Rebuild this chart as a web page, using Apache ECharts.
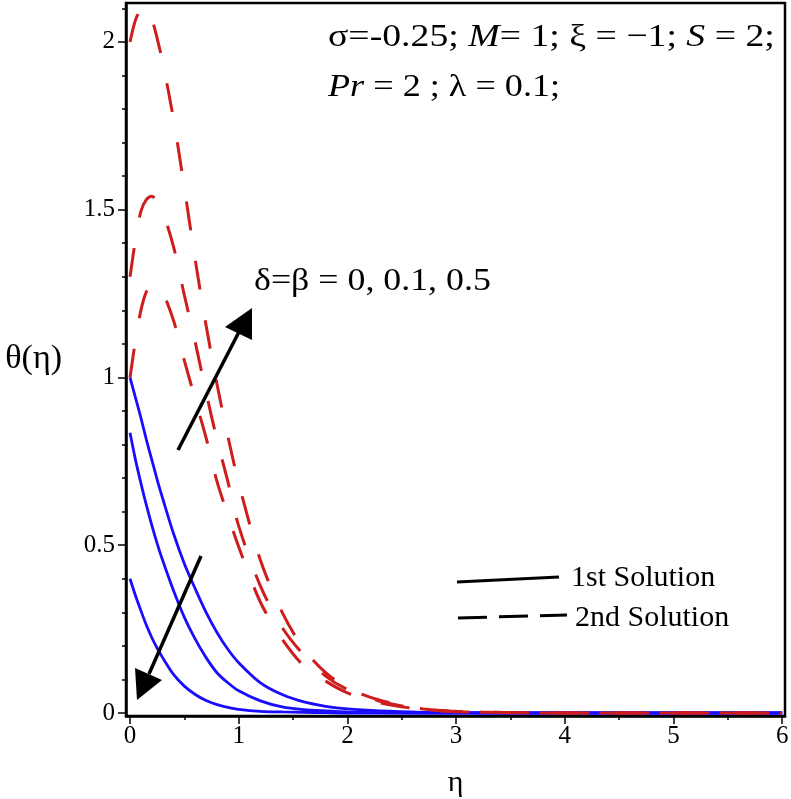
<!DOCTYPE html>
<html>
<head>
<meta charset="utf-8">
<script src="https://cdn.jsdelivr.net/npm/echarts@6/dist/echarts.min.js"></script>
<style>
  html, body { margin: 0; padding: 0; background: #fff; }
  #chart { width: 791px; height: 799px; }
</style>
</head>
<body>
<div id="chart"></div>
<script>
// eta grid shared by all curves
const eta = [0, 0.05, 0.1, 0.15, 0.2, 0.25, 0.3, 0.4, 0.5, 0.6, 0.7, 0.8, 0.9, 1.0,
             1.2, 1.4, 1.6, 1.8, 2.0, 2.3, 2.7, 3.0, 3.5, 4, 5, 6];

// 1st solution (solid blue), delta = beta = 0, 0.1, 0.5
const first0  = [1.0, 0.94, 0.88, 0.815, 0.755, 0.695, 0.64, 0.535, 0.445, 0.37, 0.30, 0.24, 0.19, 0.15,
                 0.09, 0.055, 0.033, 0.02, 0.012, 0.006, 0.002, 0.001, 0, 0, 0, 0];
const first01 = [0.835, 0.755, 0.685, 0.62, 0.56, 0.505, 0.455, 0.365, 0.285, 0.22, 0.165, 0.12, 0.09, 0.066,
                 0.036, 0.018, 0.01, 0.006, 0.003, 0.001, 0, 0, 0, 0, 0, 0];
const first05 = [0.40, 0.35, 0.305, 0.262, 0.225, 0.193, 0.165, 0.115, 0.08, 0.055, 0.037, 0.025, 0.017, 0.011,
                 0.005, 0.003, 0.002, 0.001, 0, 0, 0, 0, 0, 0, 0, 0];

// 2nd solution (dashed red)
const second05 = [2.0, 2.065, 2.097, 2.104, 2.07, 2.01, 1.94, 1.77, 1.565, 1.35, 1.155, 0.98, 0.825, 0.685,
                  0.455, 0.30, 0.19, 0.12, 0.075, 0.038, 0.012, 0.005, 0.001, 0, 0, 0];
const second01 = [1.3, 1.41, 1.495, 1.53, 1.54, 1.525, 1.495, 1.39, 1.245, 1.105, 0.955, 0.815, 0.69, 0.557,
                  0.378, 0.255, 0.172, 0.11, 0.07, 0.035, 0.011, 0.005, 0.001, 0, 0, 0];
const second0  = [1.0, 1.11, 1.2, 1.255, 1.275, 1.275, 1.255, 1.17, 1.05, 0.935, 0.82, 0.69, 0.59, 0.495,
                  0.33, 0.22, 0.14, 0.095, 0.06, 0.03, 0.01, 0.004, 0.001, 0, 0, 0];

const xMajor = [0, 1, 2, 3, 4, 5, 6];
const xMinor = [0.5, 1.5, 2.5, 3.5, 4.5, 5.5];
const yMajor = [0, 0.5, 1, 1.5, 2];
const yMinor = [0.1, 0.2, 0.3, 0.4, 0.6, 0.7, 0.8, 0.9, 1.1, 1.2, 1.3, 1.4, 1.6, 1.7, 1.8, 1.9, 2.1];

const FONT = '"Liberation Serif", "Times New Roman", serif';
const BLUE = '#1a0dff';
const RED = '#cf1d1d';

const pairs = (ys) => eta.map((x, i) => [x, ys[i]]);

const chart = echarts.init(document.getElementById('chart'), null, { renderer: 'canvas' });

const xBase = { type: 'value', min: -0.037, max: 6.026, splitLine: { show: false } };
const yBase = { type: 'value', min: -0.009, max: 2.116, splitLine: { show: false } };

const solid = (d) => ({
    type: 'line', data: pairs(d), showSymbol: false, smooth: 0.3,
    lineStyle: { color: BLUE, width: 2.8 }, z: 2
});
const dashed = (d) => ({
    type: 'line', data: pairs(d), showSymbol: false, smooth: 0.3,
    lineStyle: { color: RED, width: 3, type: [29, 31] }, z: 3
});

// stretched annotation text, like the original Maple labels
const label = (x, y, text, sx) => ({
    type: 'text', x: x, y: y, scaleX: sx, z: 10,
    style: {
        text: text, font: '32px ' + FONT, fill: '#000', verticalAlign: 'top',
        rich: { i: { fontStyle: 'italic', fontFamily: FONT, fontSize: 32 } }
    }
});

const option = {
    animation: false,
    backgroundColor: '#fff',
    grid: {
        left: 126, right: 6, top: 3, bottom: 83,
        show: true, borderColor: '#000', borderWidth: 2.5,
        outerBoundsMode: 'none'
    },
    xAxis: [
        {
            ...xBase,
            name: 'η', nameLocation: 'middle', nameGap: 52,
            nameTextStyle: { fontFamily: FONT, fontSize: 30, color: '#000' },
            axisLine: { show: true, onZero: false, lineStyle: { color: '#000', width: 2.5 } },
            axisTick: { show: true, customValues: xMajor, length: 8, lineStyle: { color: '#000', width: 1.5 } },
            axisLabel: { customValues: xMajor, color: '#000', fontFamily: FONT, fontSize: 25, margin: 8 }
        },
        {
            ...xBase, position: 'bottom',
            axisLine: { show: false, onZero: false },
            axisTick: { show: true, customValues: xMinor, length: 4, lineStyle: { color: '#000', width: 1.5 } },
            axisLabel: { show: false }
        }
    ],
    yAxis: [
        {
            ...yBase,
            name: 'θ(η)', nameLocation: 'middle', nameGap: 64, nameRotate: 0,
            nameTextStyle: { fontFamily: FONT, fontSize: 34, color: '#000' },
            axisLine: { show: true, onZero: false, lineStyle: { color: '#000', width: 2.5 } },
            axisTick: { show: true, customValues: yMajor, length: 8, lineStyle: { color: '#000', width: 1.5 } },
            axisLabel: { customValues: yMajor, color: '#000', fontFamily: FONT, fontSize: 25, margin: 11 }
        },
        {
            ...yBase, position: 'left',
            axisLine: { show: false, onZero: false },
            axisTick: { show: true, customValues: yMinor, length: 4, lineStyle: { color: '#000', width: 1.5 } },
            axisLabel: { show: false }
        }
    ],
    series: [
        solid(first0), solid(first01), solid(first05),
        dashed(second0), dashed(second01), dashed(second05)
    ],
    graphic: [
        label(328, 22, 'σ=-0.25; {i|M}= 1; ξ = −1; {i|S} = 2;', 1.18),
        label(328, 72, '{i|Pr} = 2 ; λ = 0.1;', 1.13),
        label(254, 266, 'δ=β = 0, 0.1, 0.5', 1.12),
        // arrows
        { type: 'line', z: 10, shape: { x1: 178, y1: 450, x2: 240, y2: 330 }, style: { stroke: '#000', lineWidth: 3.5 } },
        { type: 'polygon', z: 10, shape: { points: [[252, 308], [225, 327], [252, 340]] }, style: { fill: '#000' } },
        { type: 'line', z: 10, shape: { x1: 201, y1: 556, x2: 149, y2: 674 }, style: { stroke: '#000', lineWidth: 3.5 } },
        { type: 'polygon', z: 10, shape: { points: [[137, 700], [135, 668], [162, 680]] }, style: { fill: '#000' } },
        // legend
        { type: 'line', z: 10, shape: { x1: 457, y1: 582, x2: 559, y2: 577 }, style: { stroke: '#000', lineWidth: 3 } },
        { type: 'line', z: 10, shape: { x1: 458, y1: 618, x2: 567, y2: 615 }, style: { stroke: '#000', lineWidth: 3, lineDash: [29, 12] } },
        { type: 'text', left: 571, top: 563, z: 10, style: { text: '1st Solution', font: '30px ' + FONT, fill: '#000' } },
        { type: 'text', left: 575, top: 603, z: 10, style: { text: '2nd Solution', font: '30px ' + FONT, fill: '#000' } }
    ]
};

chart.setOption(option);
</script>
</body>
</html>
